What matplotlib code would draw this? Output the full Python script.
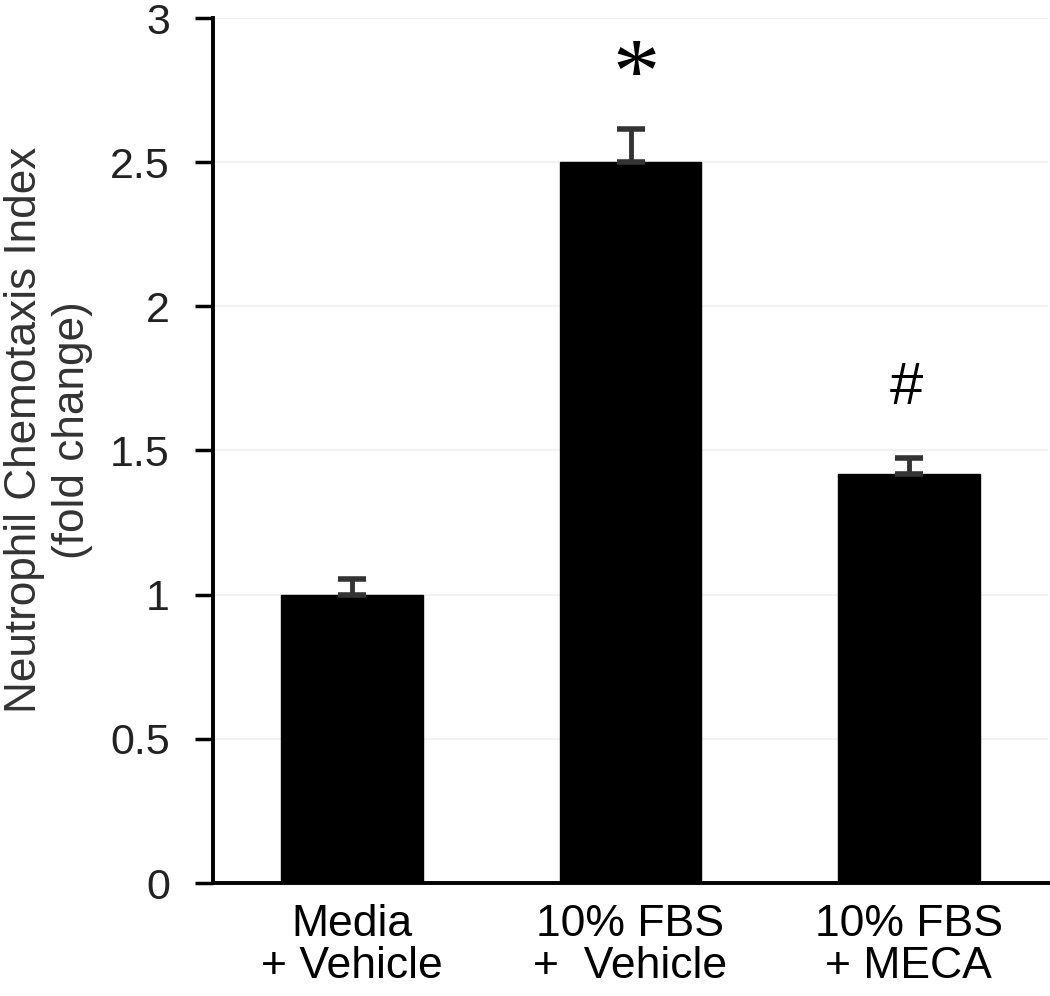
import numpy as np
import matplotlib
matplotlib.use('Agg')
import matplotlib.pyplot as plt

# Data
groups = ['Media\n+ Vehicle', '10% FBS\n+  Vehicle', '10% FBS\n+ MECA']
means = [1.00, 2.50, 1.42]
errors = [0.055, 0.115, 0.055]
marks = ['', '*', '#']
yticks = [0, 0.5, 1, 1.5, 2, 2.5, 3]
ytick_labels = ['0', '0.5', '1', '1.5', '2', '2.5', '3']

plt.rcParams['font.family'] = ['Liberation Sans', 'DejaVu Sans']

fig = plt.figure(figsize=(10.5, 9.96), dpi=100)
ax = fig.add_axes([213 / 1050, (996 - 883) / 996, 835 / 1050, 865 / 996])

x = np.arange(len(groups))
ax.bar(x, means, width=0.51, color='black', edgecolor='black', zorder=2)
ax.errorbar(x, means, yerr=[np.zeros(len(errors)), errors], fmt='none',
            ecolor='#333333', elinewidth=3.5, capsize=10, capthick=4, zorder=3)

# significance marks above the bars
for xi, m, e, s in zip(x, means, errors, marks):
    if s == '*':
        ax.text(xi + 0.02, m + e + 0.17, s, family='Liberation Serif',
                fontsize=68, ha='center', va='center')
    elif s == '#':
        ax.text(xi - 0.01, m + e + 0.24, s, fontsize=43, ha='center', va='center')

ax.set_xlim(-0.5, 2.5)
ax.set_ylim(0, 3)
ax.set_yticks(yticks)
ax.set_yticklabels(ytick_labels)
ax.set_xticks(x)
ax.set_xticklabels(groups, fontsize=32, linespacing=1.05)
ax.tick_params(axis='x', length=0, pad=15)
ax.tick_params(axis='y', length=13, width=2.5, pad=18, labelsize=31,
               labelcolor='#222222', direction='out')

ax.grid(axis='y', color='#f2f2f2', linewidth=1.5, zorder=0)
ax.set_axisbelow(True)

for side in ['top', 'right']:
    ax.spines[side].set_visible(False)
for side in ['left', 'bottom']:
    ax.spines[side].set_linewidth(2.8)

ax.set_ylabel('Neutrophil Chemotaxis Index\n(fold change)', fontsize=31.8,
              color='#333333', linespacing=1.2, multialignment='center')
ax.yaxis.set_label_coords(-0.144, 0.524)

fig.savefig('out.png', dpi=100)
